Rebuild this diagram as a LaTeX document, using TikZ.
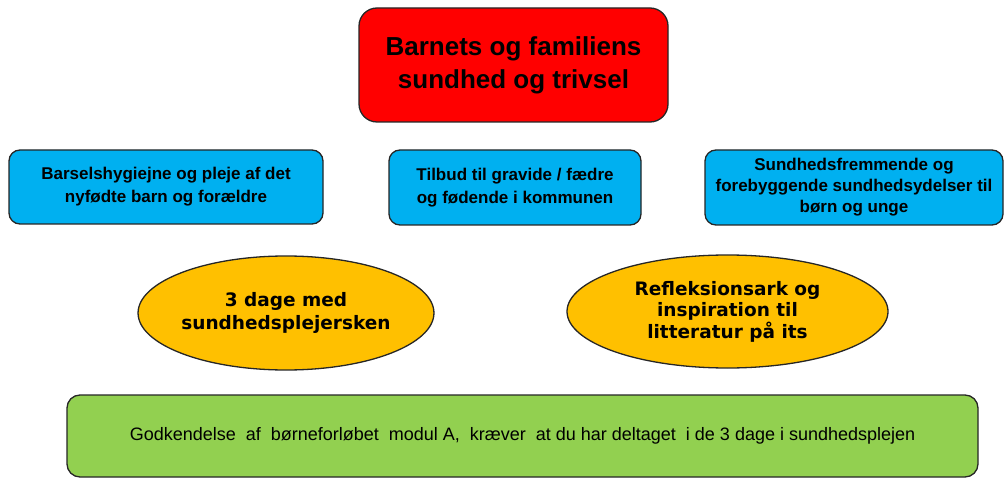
\documentclass[tikz,border=0pt]{standalone}
\usepackage{fontspec}
\setmainfont{Liberation Sans}
\newfontfamily\ellfont{DejaVu Sans}
\usetikzlibrary{shapes.geometric}
\definecolor{redbox}{HTML}{FF0000}
\definecolor{bluebox}{HTML}{00B0F0}
\definecolor{orangebox}{HTML}{FFC000}
\definecolor{greenbox}{HTML}{92D050}
\tikzset{
  base/.style={draw=black!85, line width=1.3pt, inner sep=0pt, align=center, text=black},
  topbox/.style={base, rectangle, rounded corners=18pt, fill=redbox,
     font=\fontsize{26}{33}\selectfont\bfseries},
  midbox/.style={base, rectangle, rounded corners=11pt, fill=bluebox,
     font=\fontsize{17}{23}\selectfont\bfseries},
  ellbox/.style={base, ellipse, fill=orangebox,
     font=\ellfont\fontsize{18.5}{23}\selectfont\bfseries},
  footbox/.style={base, rectangle, rounded corners=13pt, fill=greenbox,
     font=\fontsize{18}{20}\selectfont},
}
\begin{document}
\begin{tikzpicture}[x=1pt,y=-1pt]
\useasboundingbox[fill=white] (0,0) rectangle (1006,478);
\node[topbox, minimum width=309pt, minimum height=114pt] (top) at (513.5,65)
  {Barnets og familiens\\sundhed og trivsel};
\node[midbox, minimum width=314pt, minimum height=74pt] (b1) at (166,187)
  {Barselshygiejne og pleje af det\\nyfødte barn og forældre};
\node[midbox, minimum width=252pt, minimum height=75pt] (b2) at (515,187.5)
  {Tilbud til gravide / fædre\\og fødende i kommunen};
\node[midbox, minimum width=298pt, minimum height=75pt, font=\fontsize{17}{21}\selectfont\bfseries] (b3) at (854,187.5)
  {Sundhedsfremmende og\\forebyggende sundhedsydelser til\\børn og unge};
\node[ellbox, minimum width=292pt, minimum height=114pt] (e1) at (286,313)
  {3 dage med\\sundhedsplejersken};
\node[ellbox, minimum width=321pt, minimum height=113pt, font=\ellfont\fontsize{18.5}{21.5}\selectfont\bfseries] (e2) at (727.5,311.5)
  {Refleksionsark og\\inspiration til\\litteratur på its};
\node[footbox, minimum width=911pt, minimum height=82pt] (foot) at (522.5,436)
  {Godkendelse\ \ af\ \ børneforløbet\ \ modul A,\ \ kræver\ \ at du har deltaget\ \ i de 3 dage i sundhedsplejen};
\end{tikzpicture}
\end{document}
